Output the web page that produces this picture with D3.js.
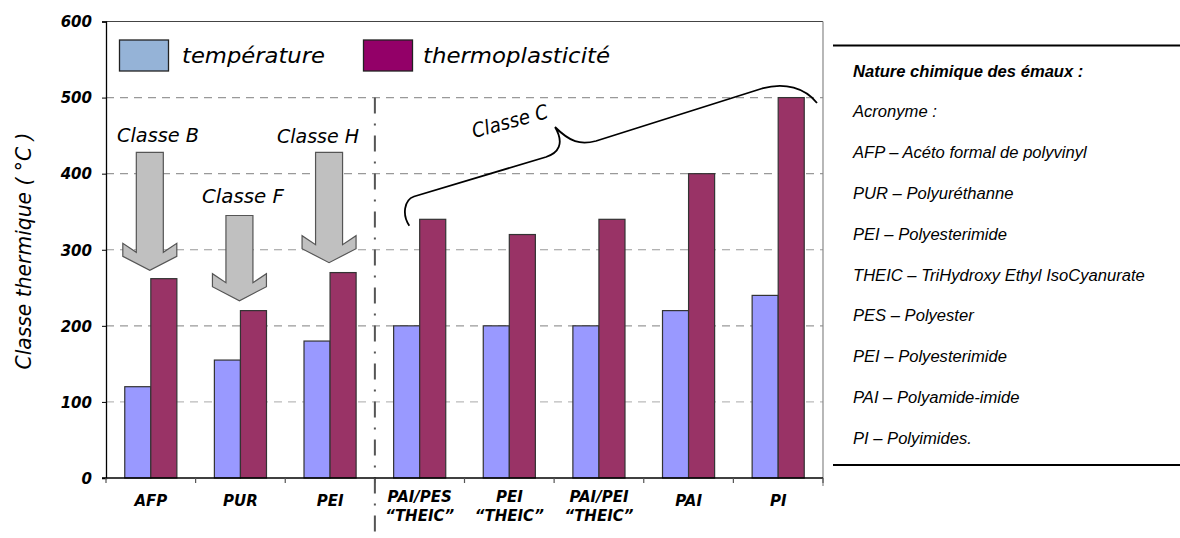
<!DOCTYPE html>
<html><head><meta charset="utf-8">
<script src="https://cdn.jsdelivr.net/npm/d3@7"></script>
<style>
html,body{margin:0;padding:0;background:#fff;}
svg{display:block;}
.hand{font-family:"DejaVu Sans",sans-serif;font-style:italic;font-weight:bold;fill:#000;}
.note{font-family:"Liberation Sans","Noto Sans",sans-serif;font-style:italic;fill:#000;}
</style>
</head><body>
<svg id="c" width="1180" height="538"></svg>
<script>
// ---- data ----
const categories = ["AFP","PUR","PEI","PAI/PES\n“THEIC”","PEI\n“THEIC”","PAI/PEI\n“THEIC”","PAI","PI"];
const seriesNames = ["température","thermoplasticité"];
const temperature = [120,155,180,200,200,200,220,240];
const thermoplasticite = [262,220,270,340,320,340,400,500];
const yTicks = [0,100,200,300,400,500,600];
const yTitle = "Classe thermique ( °C )";
const classArrows = [
  {label:"Classe B", cat:0, top:428, tip:273},
  {label:"Classe F", cat:1, top:345, tip:233},
  {label:"Classe H", cat:2, top:428, tip:283}
];
const braceLabel = "Classe C";
const noteLines = [
  "Nature chimique des émaux :",
  "Acronyme :",
  "AFP – Acéto formal de polyvinyl",
  "PUR – Polyuréthanne",
  "PEI – Polyesterimide",
  "THEIC – TriHydroxy Ethyl IsoCyanurate",
  "PES – Polyester",
  "PEI – Polyesterimide",
  "PAI – Polyamide-imide",
  "PI – Polyimides."
];

// ---- layout ----
const svg = d3.select("#c");
const L = 106, R = 823, T = 21.5, B = 478;
const x = d3.scaleBand().domain(d3.range(categories.length)).range([L,R]).paddingInner(0).paddingOuter(0);
const xs = d3.scaleBand().domain([0,1]).range([0,x.bandwidth()]).paddingInner(0).paddingOuter(0.72);
const y = d3.scaleLinear().domain([0,600]).range([B,T]);
const barColors = ["#9999FF","#993366"];
const legendColors = ["#95B3D7","#930068"];

// gridlines
svg.append("g").selectAll("line").data(yTicks.filter(d=>d>0 && d<600)).join("line")
  .attr("x1",L).attr("x2",R).attr("y1",d=>y(d)).attr("y2",d=>y(d))
  .attr("stroke",d=>d===100?"#bbb":"#999").attr("stroke-width",1.2).attr("stroke-dasharray","8,6");

// frame top & right
svg.append("line").attr("x1",L).attr("x2",R).attr("y1",y(600)).attr("y2",y(600)).attr("stroke","#444").attr("stroke-width",1.2);
svg.append("line").attr("x1",R).attr("x2",R).attr("y1",y(600)).attr("y2",B+8).attr("stroke","#888").attr("stroke-width",1.2);

// dash-dot separator
svg.append("line").attr("x1",x(3)).attr("x2",x(3)).attr("y1",y(500)).attr("y2",538)
  .attr("stroke","#555").attr("stroke-width",2).attr("stroke-dasharray","16,10,2,10");

// bars
const series = [temperature, thermoplasticite];
const gBars = svg.append("g");
series.forEach((vals,si)=>{
  gBars.selectAll(null).data(vals).join("rect")
    .attr("x",(d,i)=>x(i)+xs(si)).attr("width",xs.bandwidth())
    .attr("y",d=>y(d)).attr("height",d=>B-y(d))
    .attr("fill",barColors[si]).attr("stroke","#333").attr("stroke-width",1.2);
});

// axes
const yAxis = svg.append("g").attr("transform",`translate(${L},0)`)
  .call(d3.axisLeft(y).tickValues(yTicks).tickSize(4).tickPadding(10).tickFormat(d3.format("d")));
yAxis.select(".domain").attr("stroke","#000").attr("stroke-width",1.3);
yAxis.selectAll(".tick line").attr("stroke","#000");
yAxis.selectAll("text").attr("class","hand").style("font-size","15px").attr("dy","0.35em");

svg.append("line").attr("x1",L-4).attr("x2",R).attr("y1",B).attr("y2",B).attr("stroke","#000").attr("stroke-width",1.3);
svg.append("g").selectAll("line").data(d3.range(categories.length+1)).join("line")
  .attr("x1",i=>L+i*x.step()).attr("x2",i=>L+i*x.step()).attr("y1",B).attr("y2",B+5)
  .attr("stroke","#555").attr("stroke-width",1.2);

const xl = svg.append("g").selectAll("text").data(categories).join("text")
  .attr("class","hand").style("font-size","15px").attr("text-anchor","middle")
  .attr("transform",(d,i)=>`translate(${x(i)+x.bandwidth()/2},0)`);
xl.each(function(d){
  const lines = d.split("\n");
  const t = d3.select(this);
  if(lines.length===1){
    t.append("tspan").attr("x",0).attr("y",506).text(lines[0]);
  } else {
    lines.forEach((ln,k)=>t.append("tspan").attr("x",0).attr("y",502+k*19).text(ln));
  }
});

// y title
svg.append("text").attr("class","hand").style("font-size","21px").style("font-weight","normal")
  .attr("text-anchor","middle").attr("transform",`translate(31,251) rotate(-90)`)
  .attr("textLength",237).attr("lengthAdjust","spacingAndGlyphs").text(yTitle);

// legend
const lg = svg.append("g");
const legX = [119.5, 363.5], legTextX=[182,423], legW=[143,187];
seriesNames.forEach((s,i)=>{
  lg.append("rect").attr("x",legX[i]).attr("y",40).attr("width",49).attr("height",31)
    .attr("fill",legendColors[i]).attr("stroke","#222").attr("stroke-width",1.3);
  lg.append("text").attr("class","hand").style("font-size","22px").style("font-weight","normal")
    .attr("x",legTextX[i]).attr("y",63).attr("textLength",legW[i]).attr("lengthAdjust","spacingAndGlyphs").text(s);
});

// class arrows
const ga = svg.append("g");
classArrows.forEach(a=>{
  const cx = x(a.cat)+x.bandwidth()/2 - 1;
  const top = y(a.top), tip = y(a.tip);
  const sw = 13.5, hw = 27;
  const pts = [[cx-sw,top],[cx+sw,top],[cx+sw,tip-18],[cx+hw,tip-27],[cx+hw,tip-14],[cx,tip],
               [cx-hw,tip-14],[cx-hw,tip-27],[cx-sw,tip-18]];
  ga.append("path").attr("d",d3.line()(pts)+"Z").attr("fill","#C0C0C0").attr("stroke","#555").attr("stroke-width",1.2);
});
const labPos = [[158,142],[243,203],[318,143]];
classArrows.forEach((a,i)=>{
  ga.append("text").attr("class","hand").style("font-size","20px").style("font-weight","normal")
    .attr("text-anchor","middle").attr("x",labPos[i][0]).attr("y",labPos[i][1])
    .attr("textLength",82).attr("lengthAdjust","spacingAndGlyphs").text(a.label);
});

// brace for classe C
const braceL = d3.path();
braceL.moveTo(409.3,225.7);
braceL.bezierCurveTo(402,215,404,200,414,196.5);
braceL.lineTo(546,157);
braceL.bezierCurveTo(558,153,565,144,555,127);
braceL.moveTo(555,127);
braceL.bezierCurveTo(570,142,580,145,596,141);
braceL.lineTo(762,88.5);
braceL.bezierCurveTo(785,82,805,88,817,103);
svg.append("path").attr("d",braceL.toString()).attr("fill","none").attr("stroke","#000").attr("stroke-width",1.8);
svg.append("text").attr("class","hand").style("font-size","20px").style("font-weight","normal")
  .attr("transform","translate(474,138) rotate(-15)").attr("textLength",78).attr("lengthAdjust","spacingAndGlyphs")
  .text(braceLabel);

// note box
const nb = svg.append("g");
nb.append("line").attr("x1",833).attr("x2",1180).attr("y1",45.5).attr("y2",45.5).attr("stroke","#000").attr("stroke-width",2);
nb.append("line").attr("x1",833).attr("x2",1180).attr("y1",465).attr("y2",465).attr("stroke","#000").attr("stroke-width",2);
const nt = nb.selectAll("text").data(noteLines).join("text").attr("class","note")
  .style("font-size","14px").style("font-weight",(d,i)=>i===0?"bold":"normal")
  .attr("x",853).attr("y",(d,i)=>76.5+i*40.8).text(d=>d);
// fit the widest line (THEIC) to its width in the reference
const ref = nt.filter((d,i)=>i===5).node();
const w = ref.getComputedTextLength();
const fs = 14*292/w;
nt.style("font-size",fs+"px");
</script>
</body></html>
